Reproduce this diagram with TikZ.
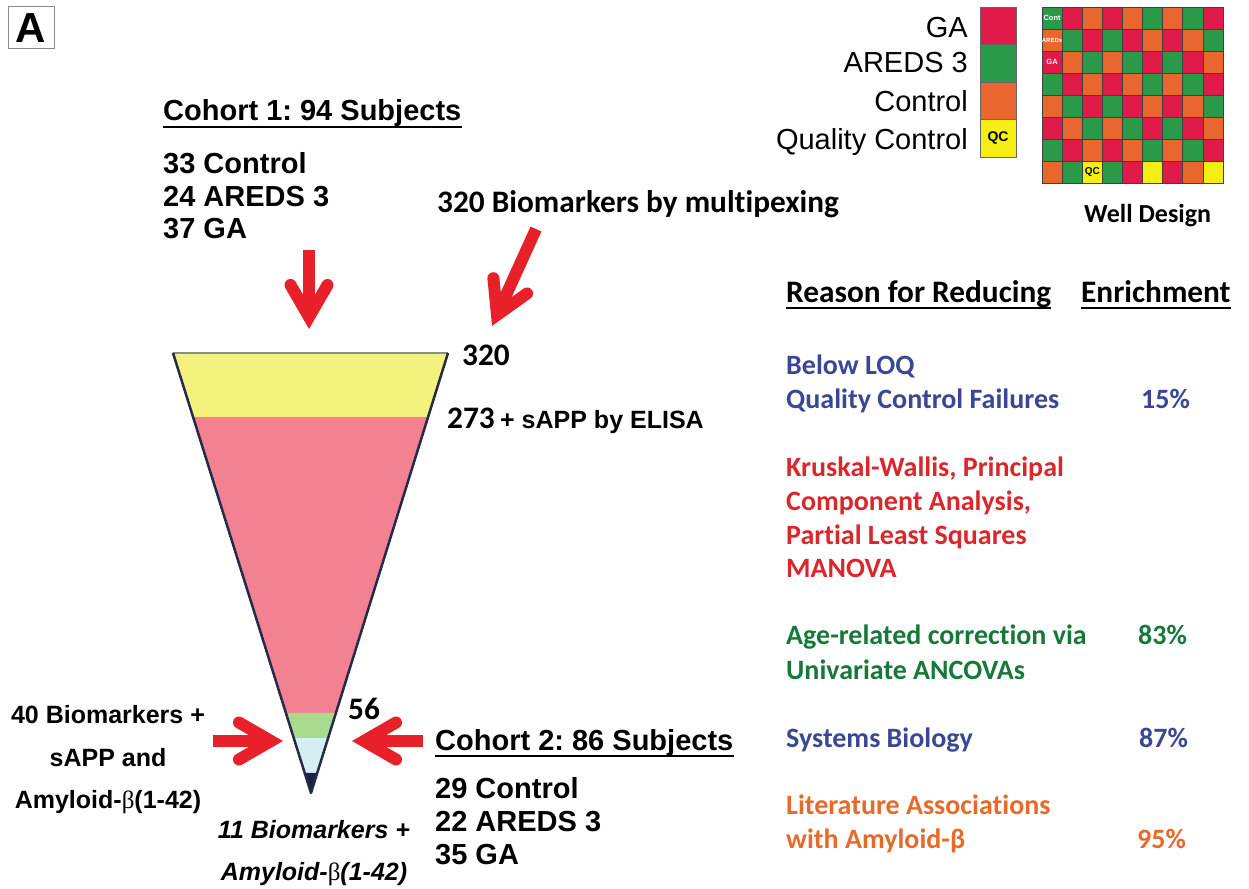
\documentclass[tikz,border=0pt]{standalone}
\usepackage{fontspec}
\setmainfont{Liberation Sans}
\newfontfamily\calfont[Ligatures=NoCommon]{Carlito}
\newfontfamily\symfont{Liberation Serif}
\usetikzlibrary{calc}
\frenchspacing
\definecolor{arrowred}{HTML}{E8202A}
\definecolor{bandyellow}{HTML}{F2F27C}
\definecolor{bandpink}{HTML}{F28192}
\definecolor{bandgreen}{HTML}{A9DB8E}
\definecolor{bandblue}{HTML}{D6EEF1}
\definecolor{bandnavy}{HTML}{1E1F45}
\definecolor{sidenavy}{HTML}{262A4A}
\definecolor{cellR}{HTML}{E01B4A}
\definecolor{cellG}{HTML}{2A9A48}
\definecolor{cellO}{HTML}{E9662F}
\definecolor{cellY}{HTML}{F5EE12}
\definecolor{txtblue}{HTML}{3A4796}
\definecolor{txtred}{HTML}{D9272B}
\definecolor{txtgreen}{HTML}{17783A}
\definecolor{txtorange}{HTML}{E66A2A}
\newcommand\fatarrow[2]{%
  \draw[arrowshaft] (#1) -- ($(#2)!10pt!(#1)$);
  \draw[arrowbarb] ($(#2)!37pt!30:(#1)$) -- (#2) -- ($(#2)!37pt!-30:(#1)$);
}
\begin{document}
\begin{tikzpicture}[x=1pt,y=-1pt,
  ar/.style={font=\bfseries\fontsize{29}{33}\selectfont, inner sep=0pt, anchor=base west},
  arsm/.style={font=\bfseries\fontsize{25}{30}\selectfont, inner sep=0pt, anchor=base},
  arit/.style={font=\bfseries\itshape\fontsize{25}{30}\selectfont, inner sep=0pt, anchor=base},
  cal/.style={font=\calfont\bfseries\fontsize{31.3}{36}\selectfont, inner sep=0pt, anchor=base west},
  calb/.style={font=\calfont\bfseries\fontsize{28}{34}\selectfont, inner sep=0pt, anchor=base west},
  leg/.style={font=\fontsize{29}{33}\selectfont, inner sep=0pt, anchor=base east},
  uline/.style={line width=2pt, black},
  arrowshaft/.style={line width=12pt, arrowred, line cap=butt},
  arrowbarb/.style={line width=12pt, arrowred, line cap=round, line join=miter},
  gridline/.style={draw=black!75, line width=0.6pt},
  celllabel/.style={font=\bfseries\fontsize{7.5}{8}\selectfont, text=white, inner sep=0pt}
]
\useasboundingbox (0,0) rectangle (1249,888);
\fill[white] (0,0) rectangle (1249,888);

% panel label
\node[draw=black!45, line width=1pt, minimum width=46pt, minimum height=42pt, inner sep=0pt,
      font=\bfseries\fontsize{42}{42}\selectfont] (panel) at (31,28) {A};

% ---------- cohort 1 ----------
\node[ar] (c1) at (163,121) {Cohort 1: 94 Subjects};
\draw[uline] ([yshift=-6pt]c1.base west) -- ([yshift=-6pt]c1.base east);
\node[ar] (c1a) at (163,173) {33 Control};
\node[ar] (c1b) at (163,206) {24 AREDS 3};
\node[ar] (c1c) at (163,238) {37 GA};

\node[cal] (multi) at (437,212) {320 Biomarkers by multipexing};

% ---------- funnel ----------
\coordinate (ftl) at (173,353);
\coordinate (ftr) at (448,353);
\coordinate (apex) at (311,793);
\fill[bandyellow] (ftl) -- (ftr) -- ($(ftr)!0.1455!(apex)$) -- ($(ftl)!0.1455!(apex)$) -- cycle;
\fill[bandpink] ($(ftl)!0.1455!(apex)$) -- ($(ftr)!0.1455!(apex)$) -- ($(ftr)!0.818!(apex)$) -- ($(ftl)!0.818!(apex)$) -- cycle;
\fill[bandgreen] ($(ftl)!0.818!(apex)$) -- ($(ftr)!0.818!(apex)$) -- ($(ftr)!0.875!(apex)$) -- ($(ftl)!0.875!(apex)$) -- cycle;
\fill[bandblue] ($(ftl)!0.875!(apex)$) -- ($(ftr)!0.875!(apex)$) -- ($(ftr)!0.9545!(apex)$) -- ($(ftl)!0.9545!(apex)$) -- cycle;
\fill[bandnavy] ($(ftl)!0.9545!(apex)$) -- ($(ftr)!0.9545!(apex)$) -- (apex) -- cycle;
\draw[black!45, line width=1.2pt] (ftl) -- (ftr);
\draw[sidenavy, line width=2.5pt, line join=round] (ftl) -- (apex) -- (ftr);

\node[cal] (n320) at (462,365) {320};
\node[cal] (n273) at (447,428) {273};
\node[font=\bfseries\fontsize{25}{30}\selectfont, inner sep=0pt, anchor=base west] (sapp) at (500,428) {+ sAPP by ELISA};
\node[cal] (n56) at (348,719) {56};

% ---------- arrows ----------
\coordinate (a1tail) at (309,250);
\coordinate (a1tip) at (309,317);
\coordinate (a2tail) at (536,229);
\coordinate (a2tip) at (497,315);
\coordinate (a3tail) at (213,741);
\coordinate (a3tip) at (271,741);
\coordinate (a4tail) at (423,741);
\coordinate (a4tip) at (364,741);
\fatarrow{a1tail}{a1tip}
\fatarrow{a2tail}{a2tip}
\fatarrow{a3tail}{a3tip}
\fatarrow{a4tail}{a4tip}

% ---------- bottom-left labels ----------
\node[arsm] (l1) at (108,723) {40 Biomarkers +};
\node[arsm] (l2) at (108,766) {sAPP and};
\node[arsm] (l3) at (108,808) {Amyloid-{\symfont\mdseries β}(1-42)};
\node[arit] (b1) at (314,838) {11 Biomarkers +};
\node[arit] (b2) at (314,880) {Amyloid-{\symfont\mdseries\upshape β}(1-42)};

% ---------- cohort 2 ----------
\node[ar] (c2) at (435,750) {Cohort 2: 86 Subjects};
\draw[uline] ([yshift=-6pt]c2.base west) -- ([yshift=-6pt]c2.base east);
\node[ar] (c2a) at (435,798) {29 Control};
\node[ar] (c2b) at (435,831) {22 AREDS 3};
\node[ar] (c2c) at (435,864) {35 GA};

% ---------- legend ----------
\node[leg] (lgGA) at (968,38) {GA};
\node[leg] (lgAR) at (968,73) {AREDS 3};
\node[leg] (lgCT) at (968,112) {Control};
\node[leg] (lgQC) at (968,149) {Quality Control};
\fill[cellR, draw=black!60, line width=0.8pt] (980,7) rectangle (1016,44.5);
\fill[cellG, draw=black!60, line width=0.8pt] (980,44.5) rectangle (1016,82);
\fill[cellO, draw=black!60, line width=0.8pt] (980,82) rectangle (1016,119.5);
\fill[cellY, draw=black!60, line width=0.8pt] (980,119.5) rectangle (1016,157);
\node[font=\bfseries\fontsize{14}{14}\selectfont, inner sep=0pt] (lgqcl) at (998,138) {QC};

% ---------- well design grid ----------
\foreach \rowlist [count=\r] in {{G,R,O,R,O,G,O,G,R},{O,G,R,G,R,O,R,O,G},{R,O,G,O,G,R,G,R,O},{G,R,O,R,O,G,O,G,R},{O,G,R,G,R,O,R,O,G},{R,O,G,O,G,R,G,R,O},{G,R,O,R,O,G,O,G,R},{O,G,Y,G,R,Y,R,O,Y}}{
  \foreach \c [count=\k] in \rowlist {
    \fill[cell\c, gridline] ({1042+20.1*(\k-1)},{7+22*(\r-1)}) rectangle ++(20.1,22);
  }
}
\node[celllabel] (gl1) at (1052.05,18) {Cont};
\node[celllabel, font=\bfseries\fontsize{6}{7}\selectfont] (gl2) at (1052.05,40) {AREDs};
\node[celllabel] (gl3) at (1052.05,62) {GA};
\node[font=\bfseries\fontsize{10}{10}\selectfont, inner sep=0pt] (gl4) at (1092.25,172) {QC};
\node[cal, font=\calfont\bfseries\fontsize{26}{30}\selectfont] (well) at (1084,222) {Well Design};

% ---------- right table ----------
\node[cal] (hdr1) at (786,302) {Reason for Reducing};
\draw[uline] ([yshift=-6pt]hdr1.base west) -- ([yshift=-6pt]hdr1.base east);
\node[cal] (hdr2) at (1081,302) {Enrichment};
\draw[uline] ([yshift=-6pt]hdr2.base west) -- ([yshift=-6pt]hdr2.base east);

\node[calb, text=txtblue] (r1a) at (786,374) {Below LOQ};
\node[calb, text=txtblue] (r1b) at (786,408) {Quality Control Failures};
\node[calb, text=txtblue] (p1) at (1141,408) {15\%};

\node[calb, text=txtred] (r2a) at (786,476) {Kruskal-Wallis, Principal};
\node[calb, text=txtred] (r2b) at (786,510) {Component Analysis,};
\node[calb, text=txtred] (r2c) at (786,544) {Partial Least Squares};
\node[calb, text=txtred] (r2d) at (786,577) {MANOVA};

\node[calb, text=txtgreen] (r3a) at (786,644) {Age-related correction via};
\node[calb, text=txtgreen] (r3b) at (786,679) {Univariate ANCOVAs};
\node[calb, text=txtgreen] (p3) at (1138,644) {83\%};

\node[calb, text=txtblue] (r4) at (786,747) {Systems Biology};
\node[calb, text=txtblue] (p4) at (1139,747) {87\%};

\node[calb, text=txtorange] (r5a) at (786,814) {Literature Associations};
\node[calb, text=txtorange] (r5b) at (786,848) {with Amyloid-β};
\node[calb, text=txtorange] (p5) at (1137,848) {95\%};
\end{tikzpicture}
\end{document}
